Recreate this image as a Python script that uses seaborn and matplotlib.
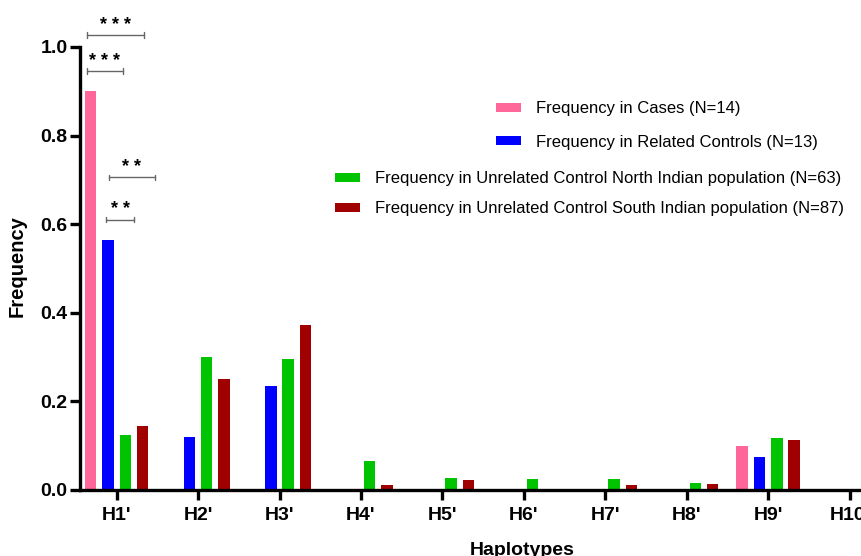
import pandas as pd
import matplotlib
matplotlib.use("Agg")
import matplotlib.pyplot as plt
import seaborn as sns
import numpy as np

sns.set_style("ticks")
plt.rcParams['font.family'] = ['Liberation Sans', 'DejaVu Sans']
plt.rcParams['text.color'] = 'black'
plt.rcParams['xtick.color'] = 'black'
plt.rcParams['ytick.color'] = 'black'
plt.rcParams['axes.edgecolor'] = 'black'
plt.rcParams['axes.labelcolor'] = 'black'

# dados
haplotypes = ["H1'", "H2'", "H3'", "H4'", "H5'", "H6'", "H7'", "H8'", "H9'", "H10'"]
groups = ["Frequency in Cases (N=14)",
          "Frequency in Related Controls (N=13)",
          "Frequency in Unrelated Control North Indian population (N=63)",
          "Frequency in Unrelated Control South Indian population (N=87)"]
cases = [0.90, 0.0, 0.0, 0.0, 0.0, 0.0, 0.0, 0.0, 0.100, 0.0]
related = [0.565, 0.120, 0.235, 0.0, 0.003, 0.0, 0.0, 0.0, 0.075, 0.0]
north = [0.124, 0.300, 0.296, 0.065, 0.027, 0.025, 0.024, 0.015, 0.118, 0.0]
south = [0.144, 0.250, 0.372, 0.011, 0.022, 0.0, 0.011, 0.013, 0.113, 0.0]
colors = ["#FF6699", "#0000FF", "#00C400", "#A00000"]

# significância: (x0, x1, y, texto)
brackets = [(-0.37, 0.34, 1.027, "* * *"),
            (-0.37, 0.08, 0.946, "* * *"),
            (-0.10, 0.475, 0.706, "* *"),
            (-0.125, 0.215, 0.610, "* *")]

df = pd.DataFrame({
    'Haplotype': haplotypes * 4,
    'Group': np.repeat(groups, len(haplotypes)),
    'Frequency': cases + related + north + south,
})

fig = plt.figure(figsize=(8.61, 5.56), dpi=100)
ax = fig.add_axes([80 / 861, 66 / 556, 1 - 80 / 861, 443 / 556])

sns.barplot(data=df, x='Haplotype', y='Frequency', hue='Group',
            palette=colors, saturation=1, width=0.85, gap=0.34, ax=ax,
            edgecolor='none', linewidth=0)

handles, labels = ax.get_legend_handles_labels()
ax.get_legend().remove()

ax.set_xlim(-0.45, 9.14)
ax.set_ylim(0, 1.0)
ax.set_yticks(np.arange(0, 1.01, 0.2))
ax.set_yticklabels([f"{v:.1f}" for v in np.arange(0, 1.01, 0.2)])
sns.despine(ax=ax)
for s in ['left', 'bottom']:
    ax.spines[s].set_linewidth(2.4)
ax.tick_params(axis='both', width=2.4, length=7, labelsize=14)
ax.tick_params(axis='y', pad=2)
ax.tick_params(axis='x', pad=5)
for lbl in ax.get_xticklabels() + ax.get_yticklabels():
    lbl.set_fontweight('bold')

ax.set_xlabel('Haplotypes', fontsize=14, fontweight='bold')
ax.set_ylabel('Frequency', fontsize=14.5, fontweight='bold')
ax.xaxis.set_label_coords(0.566, -0.118)
ax.yaxis.set_label_coords(-0.068, 0.506)

# colchetes de significância
cap = 0.006
for x0, x1, y, txt in brackets:
    ax.plot([x0, x1], [y, y], color='#666666', lw=1, clip_on=False)
    ax.plot([x0, x0], [y - cap, y + cap], color='#666666', lw=1, clip_on=False)
    ax.plot([x1, x1], [y - cap, y + cap], color='#666666', lw=1, clip_on=False)
    ax.text((x0 + x1) / 2, y + 0.003, txt, ha='center', va='bottom',
            fontsize=13, fontweight='bold', clip_on=False)

leg_kw = dict(frameon=False, fontsize=12, handlelength=1.5, handleheight=0.42,
              handletextpad=0.9, borderpad=0,
              loc='upper left', bbox_transform=fig.transFigure)
leg1 = ax.legend(handles[:2], labels[:2], bbox_to_anchor=(488 / 861, 1 - 93 / 556),
                 labelspacing=1.1, **leg_kw)
ax.add_artist(leg1)
ax.legend(handles[2:], labels[2:], bbox_to_anchor=(327 / 861, 1 - 163 / 556),
          labelspacing=0.9, **leg_kw)

plt.savefig('out.png', dpi=100)
plt.close()
